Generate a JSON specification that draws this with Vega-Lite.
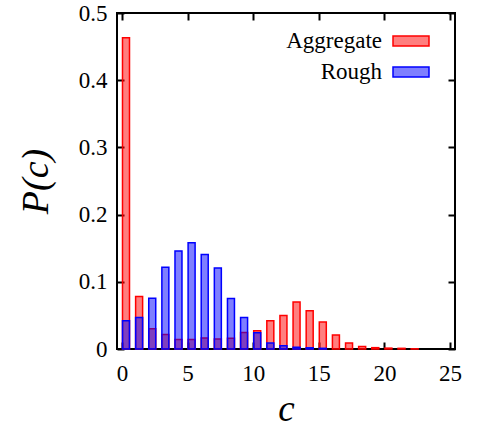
{
  "$schema": "https://vega.github.io/schema/vega-lite/v6.json",
  "width": 338,
  "height": 336,
  "padding": {"left": 17, "top": 2, "right": 5, "bottom": 0},
  "background": "white",
  "config": {
    "view": {"stroke": "black", "strokeWidth": 2},
    "font": "Liberation Serif",
    "axis": {
      "grid": false,
      "domain": false,
      "tickColor": "black",
      "tickWidth": 2,
      "tickSize": -7,
      "labelFont": "Liberation Serif",
      "labelFontSize": 23,
      "labelColor": "black",
      "titleFont": "Liberation Serif",
      "titleFontSize": 38,
      "titleFontStyle": "italic",
      "titleFontWeight": "normal",
      "titleColor": "black"
    }
  },
  "data": {
    "values": [
      {"c": 0, "p": 0.463, "s": "Aggregate"},
      {"c": 1, "p": 0.078, "s": "Aggregate"},
      {"c": 2, "p": 0.030, "s": "Aggregate"},
      {"c": 3, "p": 0.0215, "s": "Aggregate"},
      {"c": 4, "p": 0.014, "s": "Aggregate"},
      {"c": 5, "p": 0.014, "s": "Aggregate"},
      {"c": 6, "p": 0.0165, "s": "Aggregate"},
      {"c": 7, "p": 0.015, "s": "Aggregate"},
      {"c": 8, "p": 0.016, "s": "Aggregate"},
      {"c": 9, "p": 0.0245, "s": "Aggregate"},
      {"c": 10, "p": 0.027, "s": "Aggregate"},
      {"c": 11, "p": 0.042, "s": "Aggregate"},
      {"c": 12, "p": 0.050, "s": "Aggregate"},
      {"c": 13, "p": 0.070, "s": "Aggregate"},
      {"c": 14, "p": 0.057, "s": "Aggregate"},
      {"c": 15, "p": 0.040, "s": "Aggregate"},
      {"c": 16, "p": 0.021, "s": "Aggregate"},
      {"c": 17, "p": 0.009, "s": "Aggregate"},
      {"c": 18, "p": 0.0037, "s": "Aggregate"},
      {"c": 19, "p": 0.002, "s": "Aggregate"},
      {"c": 20, "p": 0.0013, "s": "Aggregate"},
      {"c": 21, "p": 0.001, "s": "Aggregate"},
      {"c": 22, "p": 0.0003, "s": "Aggregate"},
      {"c": 0, "p": 0.042, "s": "Rough"},
      {"c": 1, "p": 0.0467, "s": "Rough"},
      {"c": 2, "p": 0.0756, "s": "Rough"},
      {"c": 3, "p": 0.1217, "s": "Rough"},
      {"c": 4, "p": 0.146, "s": "Rough"},
      {"c": 5, "p": 0.158, "s": "Rough"},
      {"c": 6, "p": 0.1405, "s": "Rough"},
      {"c": 7, "p": 0.1207, "s": "Rough"},
      {"c": 8, "p": 0.075, "s": "Rough"},
      {"c": 9, "p": 0.0468, "s": "Rough"},
      {"c": 10, "p": 0.024, "s": "Rough"},
      {"c": 11, "p": 0.009, "s": "Rough"},
      {"c": 12, "p": 0.005, "s": "Rough"},
      {"c": 13, "p": 0.0027, "s": "Rough"},
      {"c": 14, "p": 0.0018, "s": "Rough"},
      {"c": 15, "p": 0.001, "s": "Rough"}
    ]
  },
  "layer": [
    {
      "mark": {"type": "bar", "width": 7, "xOffset": 4, "fillOpacity": 0.5, "strokeWidth": 1.5, "orient": "vertical"},
      "encoding": {
        "x": {
          "field": "c", "type": "quantitative",
          "scale": {"domain": [0, 25], "nice": false, "zero": false},
          "axis": {"orient": "bottom", "values": [0, 5, 10, 15, 20, 25], "title": "c", "labelPadding": 20, "labelDx": 4, "titleBaseline": "alphabetic", "titleFontSize": 37, "titlePadding": 35}
        },
        "y": {
          "field": "p", "type": "quantitative", "stack": null,
          "scale": {"domain": [0, 0.5], "nice": false},
          "axis": {"orient": "left", "values": [0, 0.1, 0.2, 0.3, 0.4, 0.5], "format": "~g", "title": "P(c)", "labelPadding": 17, "titlePadding": 23}
        },
        "color": {
          "field": "s", "type": "nominal",
          "scale": {"domain": ["Aggregate", "Rough"], "range": ["#ff0000", "#0000ff"]},
          "legend": {
            "title": null,
            "orient": "none",
            "legendX": 275,
            "legendY": 9,
            "labelFont": "Liberation Serif",
            "labelFontSize": 23,
            "labelColor": "black",
            "labelAlign": "right",
            "labelOffset": -48,
            "symbolType": "M-1,-0.28H1V0.28H-1Z",
            "symbolSize": 1296,
            "symbolStrokeWidth": 1.5,
            "rowPadding": -10,
            "encode": {"symbols": {"update": {"fillOpacity": {"value": 0.5}}}}
          }
        },
        "stroke": {
          "field": "s", "type": "nominal",
          "scale": {"domain": ["Aggregate", "Rough"], "range": ["#ff0000", "#0000ff"]},
          "legend": null
        }
      }
    },
    {
      "mark": {"type": "point", "opacity": 0},
      "encoding": {
        "x": {
          "field": "c", "type": "quantitative",
          "axis": {"orient": "top", "values": [0, 5, 10, 15, 20, 25], "labels": false, "title": null}
        },
        "y": {
          "field": "p", "type": "quantitative", "stack": null,
          "axis": {"orient": "right", "values": [0, 0.1, 0.2, 0.3, 0.4, 0.5], "labels": false, "title": null}
        }
      }
    }
  ],
  "resolve": {"axis": {"x": "independent", "y": "independent"}}
}
